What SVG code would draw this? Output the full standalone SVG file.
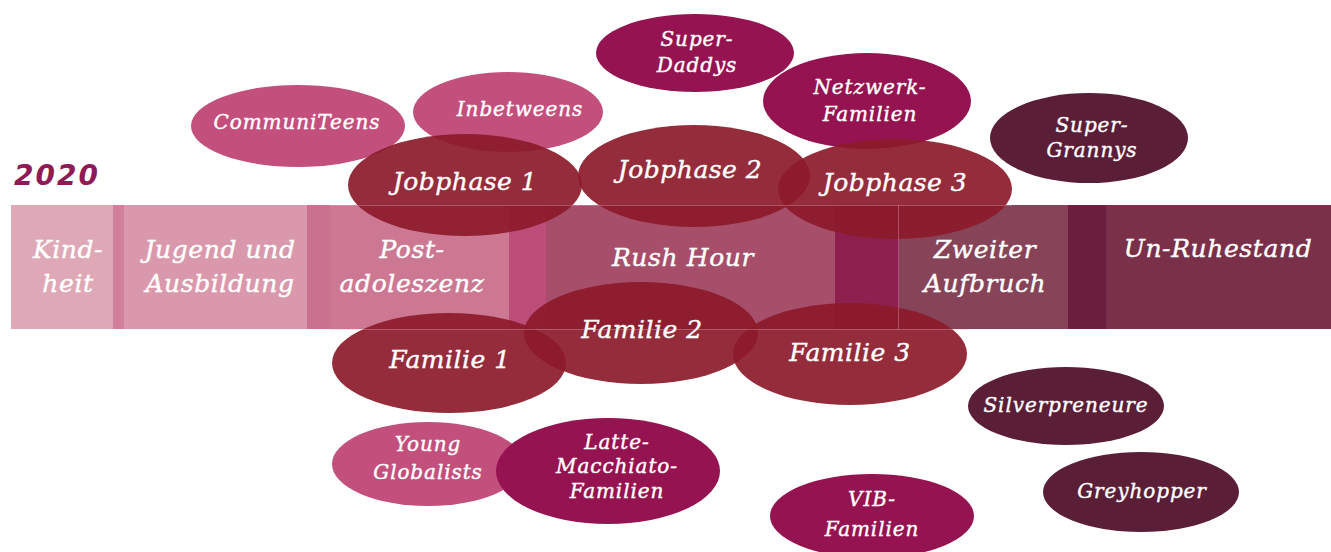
<svg xmlns="http://www.w3.org/2000/svg" width="1331" height="552" viewBox="0 0 1331 552">
<style>
  .lbl { font-family: "DejaVu Serif", "Liberation Serif", serif; font-style: italic; fill: #ffffff; stroke: #ffffff; stroke-width: 0.4; text-anchor: middle; }
  .band { font-size: 25px; letter-spacing: 0.6px; }
  .big { font-size: 25px; letter-spacing: 0.5px; }
  .small { font-size: 20px; letter-spacing: 0.9px; }
  .pink { fill: #c34f7c; }
  .mag { fill: #951350; }
  .dark { fill: #5a1e37; }
  .red { fill: #8c1a2a; opacity: 0.92; }
  .edge { stroke: #e9b0c0; stroke-opacity: 0.35; stroke-width: 1; fill: none; }
</style>
<rect width="1331" height="552" fill="#ffffff"/>

<g id="year">
  <text x="14" y="185" font-family="DejaVu Sans, sans-serif" font-weight="bold" font-style="italic" font-size="28" fill="#901a56" letter-spacing="2">2020</text>
</g>

<g id="band">
  <rect x="11" y="205" width="102" height="124" fill="#dea8b6"/>
  <rect x="113" y="205" width="11" height="124" fill="#d27f9b"/>
  <rect x="124" y="205" width="183" height="124" fill="#d998ac"/>
  <rect x="307" y="205" width="23" height="124" fill="#c9718f"/>
  <rect x="330" y="205" width="179" height="124" fill="#cd7893"/>
  <rect x="509" y="205" width="37" height="124" fill="#bc4c78"/>
  <rect x="546" y="205" width="289" height="124" fill="#a74e6b"/>
  <rect x="835" y="205" width="64" height="124" fill="#8e2050"/>
  <rect x="899" y="205" width="169" height="124" fill="#874458"/>
  <rect x="1068" y="205" width="38" height="124" fill="#6b1e3d"/>
  <rect x="1106" y="205" width="225" height="124" fill="#7a3048"/>
</g>

<g id="band-labels" class="lbl band">
  <text x="68" y="258">Kind-</text>
  <text x="68" y="292">heit</text>
  <text x="220" y="258">Jugend und</text>
  <text x="220" y="292">Ausbildung</text>
  <text x="412" y="258">Post-</text>
  <text x="412" y="292">adoleszenz</text>
  <text x="683" y="266">Rush Hour</text>
  <text x="985" y="258">Zweiter</text>
  <text x="985" y="292">Aufbruch</text>
  <text x="1218" y="257">Un-Ruhestand</text>
</g>

<g id="communiteens">
  <ellipse class="pink" cx="298" cy="126" rx="107" ry="41"/>
  <text class="lbl small" x="297" y="129">CommuniTeens</text>
</g>
<g id="inbetweens">
  <ellipse class="pink" cx="508" cy="112" rx="95" ry="40"/>
  <text class="lbl small" x="520" y="116">Inbetweens</text>
</g>
<g id="superdaddys">
  <ellipse class="mag" cx="695" cy="53" rx="99" ry="39"/>
  <text class="lbl small" x="697" y="46">Super-</text>
  <text class="lbl small" x="697" y="72">Daddys</text>
</g>
<g id="netzwerk">
  <ellipse class="mag" cx="867" cy="101" rx="104" ry="48"/>
  <text class="lbl small" x="870" y="94">Netzwerk-</text>
  <text class="lbl small" x="870" y="121">Familien</text>
</g>
<g id="supergrannys">
  <ellipse class="dark" cx="1089" cy="138" rx="99" ry="45"/>
  <text class="lbl small" x="1092" y="132">Super-</text>
  <text class="lbl small" x="1092" y="157">Grannys</text>
</g>

<g id="jobphase1">
  <ellipse class="red" cx="465" cy="185" rx="117" ry="51"/>
  <text class="lbl big" x="465" y="190">Jobphase 1</text>
</g>
<g id="jobphase2">
  <ellipse class="red" cx="694" cy="176" rx="116" ry="51"/>
  <text class="lbl big" x="690" y="178">Jobphase 2</text>
</g>
<g id="jobphase3">
  <ellipse class="red" cx="895" cy="189" rx="117" ry="50"/>
  <text class="lbl big" x="895" y="191">Jobphase 3</text>
</g>

<g id="familie1">
  <ellipse class="red" cx="449" cy="363" rx="117" ry="50"/>
  <text class="lbl big" x="450" y="368">Familie 1</text>
</g>
<g id="familie2">
  <ellipse class="red" cx="641" cy="333" rx="117" ry="51"/>
  <text class="lbl big" x="642" y="338">Familie 2</text>
</g>
<g id="familie3">
  <ellipse class="red" cx="850" cy="354" rx="117" ry="51"/>
  <text class="lbl big" x="850" y="361">Familie 3</text>
</g>

<g id="band-edges">
  <line class="edge" x1="330" y1="205.5" x2="1012" y2="205.5"/>
  <line class="edge" x1="330" y1="329.5" x2="968" y2="329.5"/>
  <line class="edge" x1="898.5" y1="205" x2="898.5" y2="329"/>
</g>

<g id="silverpreneure">
  <ellipse class="dark" cx="1066" cy="406" rx="98" ry="39"/>
  <text class="lbl small" x="1066" y="412">Silverpreneure</text>
</g>
<g id="greyhopper">
  <ellipse class="dark" cx="1141" cy="492" rx="98" ry="40"/>
  <text class="lbl small" x="1142" y="498">Greyhopper</text>
</g>
<g id="younglobalists">
  <ellipse class="pink" cx="428" cy="464" rx="96" ry="42"/>
  <text class="lbl small" x="428" y="451">Young</text>
  <text class="lbl small" x="428" y="479">Globalists</text>
</g>
<g id="lattemacchiato">
  <ellipse class="mag" cx="608" cy="471" rx="112" ry="53"/>
  <text class="lbl small" x="617" y="449">Latte-</text>
  <text class="lbl small" x="617" y="473">Macchiato-</text>
  <text class="lbl small" x="617" y="498">Familien</text>
</g>
<g id="vibfamilien">
  <ellipse class="mag" cx="872" cy="516" rx="102" ry="42"/>
  <text class="lbl small" x="872" y="506">VIB-</text>
  <text class="lbl small" x="872" y="536">Familien</text>
</g>
</svg>
